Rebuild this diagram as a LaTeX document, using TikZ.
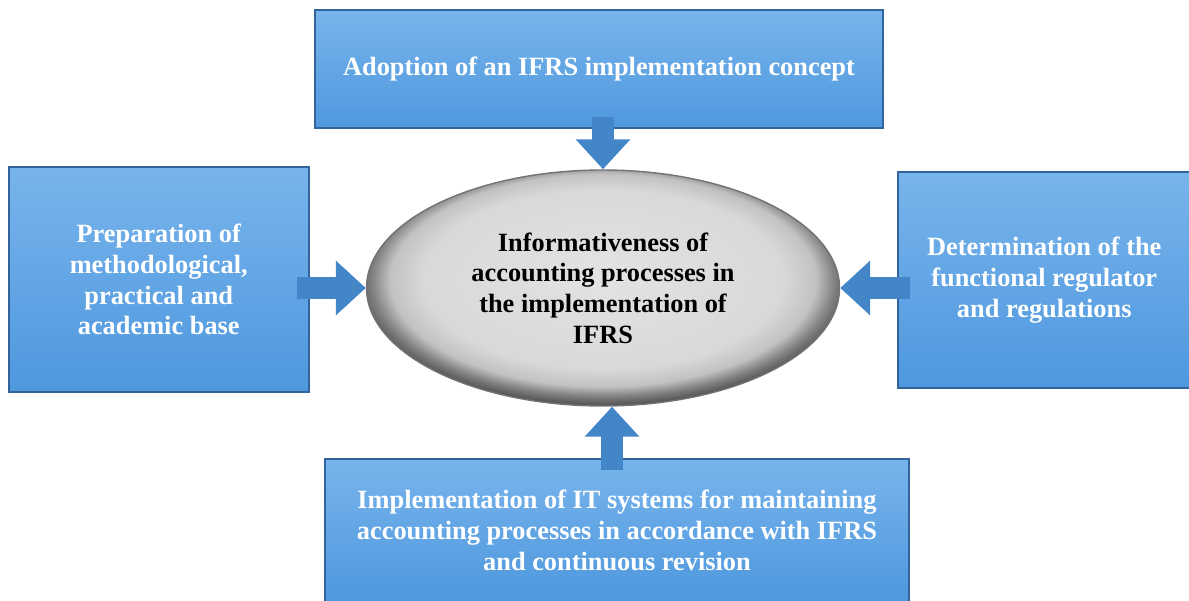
\documentclass[tikz,border=0pt]{standalone}
\usepackage{fontspec}
\setmainfont{Liberation Serif}
\usetikzlibrary{arrows.meta,shapes.geometric,positioning}
\definecolor{ifrsblue}{RGB}{78,152,222}
\definecolor{ifrslightblue}{RGB}{120,180,236}
\definecolor{ifrsdarkblue}{RGB}{50,100,155}
\definecolor{ifrsarrow}{RGB}{66,134,200}
\pgfdeclareradialshading{ellshade}{\pgfpoint{0bp}{3bp}}{%
  color(0bp)=(black!11); color(19bp)=(black!15); color(22.5bp)=(black!24);
  color(24.5bp)=(black!50); color(26bp)=(black!65); color(50bp)=(black!65)}

\begin{document}
\begin{tikzpicture}
    \tikzstyle{block} = [rectangle, draw=ifrsdarkblue, line width=1.2pt,
        top color=ifrslightblue, bottom color=ifrsblue, text=white,
        align=center, font=\fontsize{15}{17.5}\selectfont\bfseries]
    \tikzstyle{centre} = [ellipse, draw=black!55, line width=0.8pt,
        shading=ellshade, minimum width=9.46cm, minimum height=4.72cm,
        align=center, font=\fontsize{15}{17.5}\selectfont\bfseries]
    \tikzstyle{arrow} = [line width=12pt, color=ifrsarrow, shorten <=-0.25cm,
        -{Triangle[width=30pt,length=17pt]}]

    \useasboundingbox (0,0) rectangle (23.78,12);

    \node [centre] (inform) at (12.06,6.24) {Informativeness of\\accounting processes in\\the implementation of\\IFRS};
    \node [block, minimum width=11.36cm, minimum height=2.36cm, above=0.8cm of inform, xshift=-0.08cm] (concept) {Adoption of an IFRS implementation concept};
    \node [block, minimum width=6cm, minimum height=4.5cm, left=1.12cm of inform, yshift=0.17cm] (base) {Preparation of\\methodological,\\practical and\\academic base};
    \node [block, minimum width=5.84cm, minimum height=4.32cm, right=1.14cm of inform, yshift=0.16cm] (regul) {Determination of the\\functional regulator\\and regulations};
    \node [block, minimum width=11.68cm, minimum height=2.86cm, below=1.02cm of inform, xshift=0.28cm] (itsys) {Implementation of IT systems for maintaining\\accounting processes in accordance with IFRS\\and continuous revision};

    \draw [arrow] (concept.south -| inform.north) -- (inform.north);
    \draw [arrow] (base.east |- inform.west) -- (inform.west);
    \draw [arrow] (regul.west |- inform.east) -- (inform.east);
    \draw [arrow] ([xshift=0.18cm]itsys.north -| inform.south) -- ([xshift=0.18cm]inform.south);
\end{tikzpicture}
\end{document}
